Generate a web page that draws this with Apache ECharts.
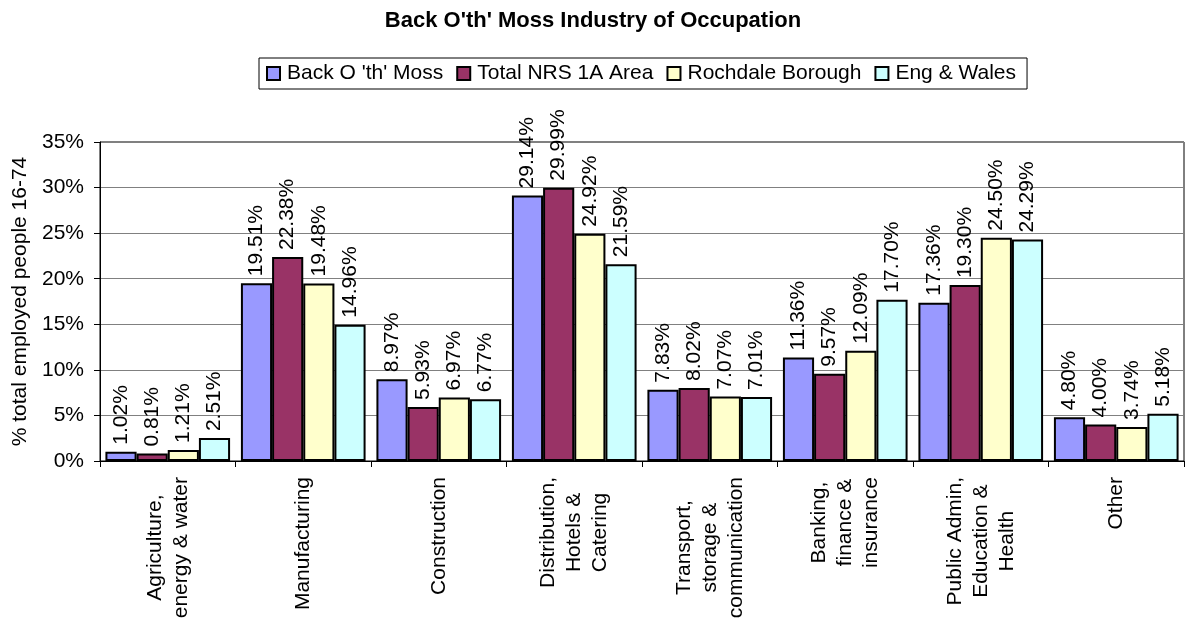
<!DOCTYPE html>
<html>
<head>
<meta charset="utf-8">
<title>Back O'th' Moss Industry of Occupation</title>
<script src="https://cdn.jsdelivr.net/npm/echarts@6/dist/echarts.min.js"></script>
<style>
  html, body { margin: 0; padding: 0; background: #fff; }
  #chart { width: 1186px; height: 624px; }
</style>
</head>
<body>
<div id="chart"></div>
<script>
var categories = [
  "Agriculture,\nenergy & water",
  "Manufacturing",
  "Construction",
  "Distribution,\nHotels &\nCatering",
  "Transport,\nstorage &\ncommunication",
  "Banking,\nfinance &\ninsurance",
  "Public Admin,\nEducation &\nHealth",
  "Other"
];
var seriesNames = ["Back O 'th' Moss", "Total NRS 1A Area", "Rochdale Borough", "Eng & Wales"];
var backOthMoss = [1.02, 19.51, 8.97, 29.14, 7.83, 11.36, 17.36, 4.80];
var totalNrs1a = [0.81, 22.38, 5.93, 29.99, 8.02, 9.57, 19.30, 4.00];
var rochdale = [1.21, 19.48, 6.97, 24.92, 7.07, 12.09, 24.50, 3.74];
var engWales = [2.51, 14.96, 6.77, 21.59, 7.01, 17.70, 24.29, 5.18];
var colors = ["#9999ff", "#993366", "#ffffcc", "#ccffff"];

var font = "Liberation Sans, Arial, sans-serif";

function makeSeries(name, data, color) {
  return {
    name: name,
    type: "bar",
    data: data,
    barGap: "0%",
    barCategoryGap: "8%",
    itemStyle: { color: color, borderColor: "#000", borderWidth: 2 },
    label: {
      show: true,
      position: "top",
      rotate: 90,
      align: "left",
      verticalAlign: "middle",
      distance: 7,
      color: "#000",
      fontFamily: font,
      fontSize: 21,
      formatter: function (p) {
        return p.value.toFixed(2) + "%";
      }
    }
  };
}

var myChart = echarts.init(document.getElementById("chart"));
myChart.setOption({
  backgroundColor: "#fff",
  animation: false,
  title: {
    text: "Back O'th' Moss Industry of Occupation",
    left: "center",
    top: 5,
    textStyle: { fontFamily: font, fontSize: 22, fontWeight: "bold", color: "#000" }
  },
  legend: {
    data: seriesNames,
    left: 259,
    top: 58,
    padding: [5, 11, 5, 7],
    borderColor: "#000",
    borderWidth: 1,
    itemWidth: 13,
    itemHeight: 13,
    itemGap: 13,
    icon: "rect",
    itemStyle: { borderColor: "#000", borderWidth: 2 },
    textStyle: { fontFamily: font, fontSize: 21, color: "#000", padding: [0, 0, 0, 2] }
  },
  grid: {
    left: 100,
    right: 2,
    top: 142,
    bottom: 163,
    show: true,
    borderColor: "#000",
    borderWidth: 1
  },
  xAxis: {
    type: "category",
    data: categories,
    axisLine: { lineStyle: { color: "#000", width: 1 } },
    axisTick: { show: true, length: 6, lineStyle: { color: "#000" } },
    axisLabel: {
      interval: 0,
      rotate: 90,
      margin: 16,
      color: "#000",
      fontFamily: font,
      fontSize: 21,
      lineHeight: 26,
      formatter: function (value) {
        return value.split("\n").map(function (l) { return "{c|" + l + "}"; }).join("\n");
      },
      rich: {
        c: { align: "center", fontFamily: font, fontSize: 21, lineHeight: 26, color: "#000" }
      }
    }
  },
  yAxis: {
    type: "value",
    min: 0,
    max: 35,
    interval: 5,
    name: "% total employed people 16-74",
    nameLocation: "middle",
    nameGap: 64,
    nameTextStyle: { fontFamily: font, fontSize: 21, color: "#000" },
    axisLine: { show: true, lineStyle: { color: "#000", width: 1 } },
    axisTick: { show: true, length: 6, lineStyle: { color: "#000" } },
    axisLabel: {
      margin: 16,
      color: "#000",
      fontFamily: font,
      fontSize: 21,
      formatter: "{value}%"
    },
    splitLine: { lineStyle: { color: "#808080", width: 1 } }
  },
  series: [
    makeSeries(seriesNames[0], backOthMoss, colors[0]),
    makeSeries(seriesNames[1], totalNrs1a, colors[1]),
    makeSeries(seriesNames[2], rochdale, colors[2]),
    makeSeries(seriesNames[3], engWales, colors[3])
  ]
});
</script>
</body>
</html>
